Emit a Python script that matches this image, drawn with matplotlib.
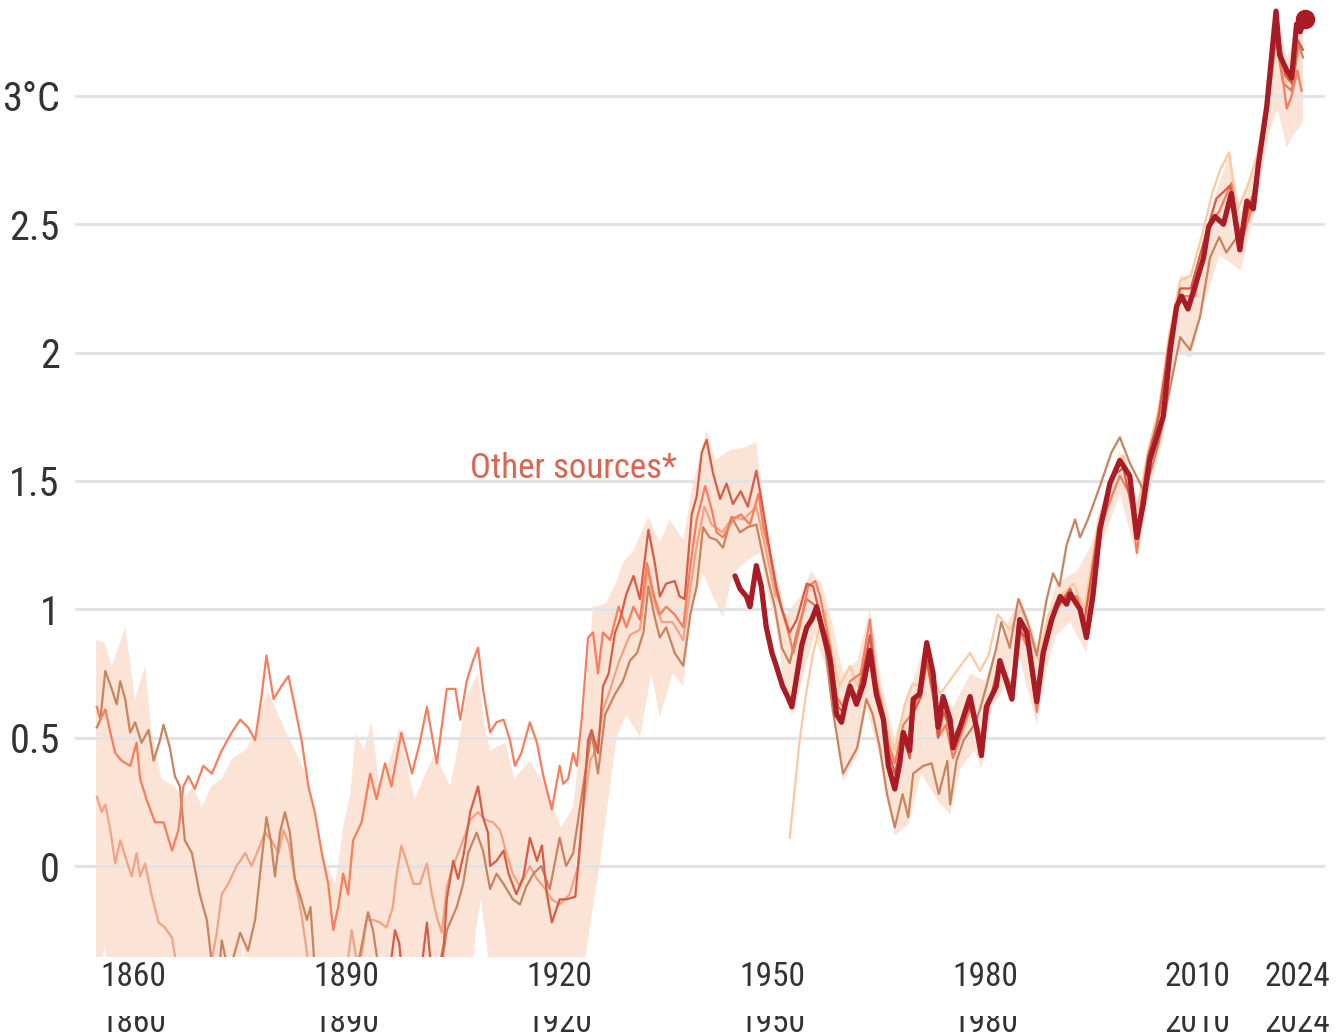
import matplotlib
matplotlib.use("Agg")
import matplotlib.pyplot as plt
from matplotlib import font_manager
from matplotlib.transforms import blended_transform_factory
from matplotlib.patches import Rectangle
import numpy as np

# pick a condensed face if one is installed
_avail = {f.name for f in font_manager.fontManager.ttflist}
FONT = "DejaVu Sans"
for _fam in ["Roboto Condensed", "Liberation Sans Narrow", "Arial Narrow", "Open Sans Condensed", "Roboto"]:
    if _fam in _avail:
        FONT = _fam
        break
plt.rcParams["font.family"] = [FONT, "DejaVu Sans"]

# ---- data (temperature anomaly, °C, rolling mean) ----
main_years = [1944.8, 1945.5, 1946.4, 1946.9, 1947.3, 1947.8, 1948.5, 1949.2, 1950.0, 1950.6,
              1951.5, 1952.2, 1952.8, 1953.5, 1954.2, 1954.9, 1955.6, 1956.3, 1957.2, 1958.2,
              1959.1, 1959.8, 1960.4, 1961.0, 1961.9, 1962.9, 1963.8, 1964.7, 1965.7, 1966.4,
              1967.3, 1968.0, 1968.5, 1969.4, 1969.9, 1970.8, 1971.8, 1972.7, 1973.4, 1974.1,
              1975.1, 1975.5, 1976.5, 1977.9, 1978.8, 1979.5, 1980.2, 1981.6, 1982.1, 1982.8,
              1983.8, 1984.9, 1985.9, 1987.3, 1988.2, 1989.4, 1990.6, 1991.5, 1992.0, 1993.4,
              1994.3, 1995.2, 1996.2, 1997.6, 1999.0, 2000.4, 2001.4, 2002.3, 2003.2, 2004.2,
              2005.1, 2006.1, 2007.0, 2007.7, 2008.6, 2009.6, 2010.8, 2011.5, 2012.4, 2013.6,
              2014.7, 2015.9, 2016.9, 2017.8, 2018.5, 2019.7, 2020.4, 2021.0, 2021.5, 2022.5,
              2023.2, 2023.9, 2024.4, 2025.1]
main_vals = [1.13, 1.08, 1.05, 1.01, 1.08, 1.17, 1.09, 0.93, 0.83, 0.78,
             0.70, 0.66, 0.62, 0.74, 0.86, 0.93, 0.96, 1.01, 0.91, 0.80,
             0.59, 0.56, 0.64, 0.70, 0.63, 0.71, 0.84, 0.67, 0.57, 0.39,
             0.30, 0.40, 0.52, 0.45, 0.65, 0.67, 0.87, 0.75, 0.54, 0.66,
             0.57, 0.46, 0.54, 0.66, 0.54, 0.43, 0.62, 0.70, 0.80, 0.74,
             0.65, 0.96, 0.91, 0.64, 0.83, 0.96, 1.05, 1.02, 1.06, 1.00,
             0.89, 1.05, 1.31, 1.49, 1.58, 1.52, 1.28, 1.41, 1.58, 1.67,
             1.75, 2.01, 2.18, 2.22, 2.17, 2.26, 2.37, 2.49, 2.53, 2.50,
             2.62, 2.40, 2.59, 2.56, 2.73, 2.96, 3.16, 3.33, 3.16, 3.10,
             3.07, 3.28, 3.25, 3.30]

salmon_years = [1854.9, 1855.4, 1856.1, 1856.8, 1857.5, 1858.4, 1859.6, 1860.5, 1861.0, 1861.9,
                1863.1, 1864.3, 1865.5, 1866.4, 1867.1, 1867.8, 1868.7, 1869.9, 1871.1, 1872.5,
                1873.9, 1875.1, 1876.2, 1877.2, 1878.1, 1878.8, 1879.8, 1880.9, 1881.9, 1882.8,
                1883.8, 1884.7, 1885.6, 1886.6, 1887.5, 1888.2, 1888.9, 1889.6, 1890.3, 1891.0,
                1892.2, 1893.4, 1894.3, 1895.5, 1896.4, 1897.8, 1899.3, 1900.4, 1901.4, 1902.8,
                1904.2, 1905.4, 1906.1, 1907.0, 1907.9, 1908.6, 1909.3, 1910.3, 1911.2, 1912.2,
                1913.1, 1913.8, 1914.7, 1915.9, 1916.9, 1917.8, 1919.0, 1920.1, 1920.6, 1921.3,
                1922.0, 1922.5, 1923.2, 1924.1, 1924.8, 1925.5, 1926.2, 1927.2, 1928.4, 1929.5,
                1930.5, 1931.4, 1932.4, 1933.3, 1934.2, 1935.1, 1936.3, 1937.5, 1938.5, 1939.4,
                1940.6, 1941.5, 1942.2, 1943.1, 1944.5, 1945.6, 1946.9, 1948.1, 1948.8, 1949.5,
                1950.7, 1951.6, 1952.5, 1953.0, 1953.9, 1955.1, 1956.1, 1956.8, 1958.0, 1959.1,
                1960.0, 1961.0, 1962.5, 1963.8, 1964.7, 1965.7, 1966.4, 1967.3, 1968.5, 1969.9,
                1971.0, 1971.8, 1972.7, 1973.4, 1974.5, 1975.5, 1976.5, 1978.0, 1979.5, 1980.2,
                1982.0, 1983.8, 1984.9, 1986.0, 1987.3, 1988.5, 1990.0, 1991.5, 1993.0, 1994.3,
                1996.0, 1998.0, 1999.0, 2000.4, 2001.4, 2003.0, 2004.2, 2006.0, 2007.5, 2009.6,
                2011.5, 2013.0, 2014.7, 2016.0, 2017.8, 2019.7, 2021.0, 2022.5, 2023.2, 2024.0,
                2024.6]
salmon_vals = [0.62, 0.57, 0.61, 0.52, 0.44, 0.41, 0.39, 0.48, 0.34, 0.26,
               0.17, 0.17, 0.06, 0.14, 0.31, 0.35, 0.30, 0.39, 0.36, 0.45,
               0.52, 0.57, 0.54, 0.49, 0.66, 0.82, 0.65, 0.70, 0.74, 0.62,
               0.48, 0.31, 0.21, 0.05, -0.07, -0.25, -0.16, -0.03, -0.11, 0.10,
               0.17, 0.36, 0.26, 0.40, 0.31, 0.52, 0.36, 0.48, 0.62, 0.40,
               0.69, 0.69, 0.57, 0.72, 0.80, 0.85, 0.69, 0.52, 0.56, 0.57,
               0.49, 0.39, 0.44, 0.56, 0.48, 0.35, 0.22, 0.39, 0.32, 0.34,
               0.44, 0.39, 0.57, 0.89, 0.91, 0.75, 0.91, 0.88, 1.01, 0.93,
               1.01, 0.96, 1.18, 1.06, 0.98, 1.01, 0.98, 0.93, 1.17, 1.35,
               1.48, 1.39, 1.30, 1.28, 1.35, 1.37, 1.33, 1.45, 1.32, 1.24,
               1.06, 0.98, 0.89, 0.83, 0.93, 1.09, 1.11, 1.05, 0.88, 0.66,
               0.62, 0.72, 0.75, 0.96, 0.72, 0.60, 0.48, 0.40, 0.55, 0.60,
               0.72, 0.80, 0.70, 0.50, 0.55, 0.42, 0.50, 0.62, 0.50, 0.58,
               0.80, 0.70, 0.92, 0.85, 0.60, 0.85, 1.00, 1.05, 1.05, 0.92,
               1.30, 1.45, 1.52, 1.45, 1.22, 1.55, 1.72, 2.02, 2.22, 2.22,
               2.50, 2.55, 2.66, 2.42, 2.58, 2.95, 3.28, 2.95, 3.00, 3.10,
               3.02]

tan_years = [1854.9, 1855.4, 1856.1, 1857.0, 1857.7, 1858.2, 1858.9, 1859.6, 1860.3, 1861.2,
             1862.2, 1862.9, 1863.8, 1864.3, 1865.2, 1865.9, 1866.6, 1867.3, 1868.3, 1869.4,
             1870.4, 1871.1, 1872.0, 1872.5, 1873.5, 1875.1, 1876.2, 1877.2, 1878.1, 1878.8,
             1879.4, 1880.0, 1880.7, 1881.4, 1882.1, 1882.8, 1883.7, 1884.5, 1885.0, 1885.6,
             1887.0, 1889.0, 1891.0, 1892.0, 1893.1, 1893.8, 1894.6, 1896.0, 1898.0, 1900.0,
             1902.0, 1903.5, 1904.2, 1905.6, 1906.5, 1907.2, 1908.4, 1909.3, 1910.3, 1911.2,
             1912.2, 1913.5, 1914.5, 1915.4, 1916.4, 1917.5, 1918.7, 1920.1, 1921.0, 1922.0,
             1923.4, 1924.6, 1925.5, 1926.5, 1927.9, 1929.0, 1930.0, 1931.0, 1931.9, 1932.6,
             1933.4, 1934.2, 1935.1, 1936.3, 1937.5, 1938.5, 1939.4, 1940.3, 1941.2, 1942.2,
             1943.1, 1944.3, 1945.5, 1946.6, 1947.8, 1948.5, 1949.5, 1950.4, 1951.4, 1952.5,
             1953.5, 1954.9, 1956.3, 1957.5, 1958.5, 1960.0, 1961.0, 1962.0, 1963.3, 1964.2,
             1965.2, 1966.2, 1967.3, 1968.4, 1969.2, 1969.9, 1971.3, 1972.5, 1973.5, 1974.7,
             1975.1, 1976.0, 1977.0, 1978.5, 1979.3, 1980.2, 1981.6, 1982.3, 1983.5, 1984.7,
             1985.9, 1987.3, 1988.7, 1989.6, 1990.5, 1991.5, 1992.7, 1993.4, 1994.5, 1996.2,
             1997.8, 1999.0, 2000.4, 2002.4, 2003.5, 2004.5, 2006.5, 2007.5, 2008.9, 2010.3,
             2011.7, 2013.0, 2014.0, 2015.5, 2016.5, 2018.0, 2019.7, 2021.0, 2022.0, 2023.2,
             2024.2, 2024.8]
tan_vals = [0.54, 0.57, 0.76, 0.69, 0.63, 0.72, 0.65, 0.52, 0.56, 0.48,
            0.53, 0.41, 0.49, 0.55, 0.46, 0.35, 0.31, 0.10, 0.05, -0.11,
            -0.21, -0.38, -0.45, -0.29, -0.42, -0.26, -0.33, -0.21, 0.02, 0.19,
            0.10, -0.04, 0.13, 0.21, 0.13, -0.05, -0.13, -0.21, -0.16, -0.40,
            -0.50, -0.45, -0.45, -0.34, -0.18, -0.25, -0.40, -0.50, -0.45, -0.50,
            -0.45, -0.38, -0.25, -0.16, -0.07, 0.05, 0.13, 0.06, -0.09, -0.03,
            -0.07, -0.13, -0.15, -0.08, -0.03, 0.00, -0.09, 0.11, 0.00, 0.05,
            0.31, 0.52, 0.36, 0.59, 0.67, 0.72, 0.80, 0.83, 0.91, 1.09,
            0.98, 0.89, 0.93, 0.83, 0.78, 0.98, 1.09, 1.32, 1.28, 1.27,
            1.24, 1.36, 1.30, 1.32, 1.33, 1.24, 1.11, 1.01, 0.85, 0.79,
            0.91, 1.04, 1.01, 0.85, 0.62, 0.36, 0.41, 0.46, 0.65, 0.59,
            0.46, 0.28, 0.15, 0.28, 0.19, 0.36, 0.39, 0.40, 0.28, 0.41,
            0.24, 0.41, 0.49, 0.55, 0.61, 0.70, 0.85, 0.95, 0.85, 1.04,
            0.96, 0.82, 1.04, 1.14, 1.09, 1.25, 1.35, 1.28, 1.35, 1.48,
            1.61, 1.67, 1.57, 1.46, 1.55, 1.65, 1.92, 2.06, 2.01, 2.14,
            2.37, 2.45, 2.39, 2.45, 2.50, 2.62, 2.92, 3.22, 3.05, 3.02,
            3.20, 3.15]

peach_years = [1854.9, 1855.6, 1856.1, 1856.8, 1857.5, 1858.2, 1859.1, 1859.8, 1860.5, 1861.0,
               1861.7, 1862.6, 1863.6, 1864.5, 1865.5, 1866.2, 1868.0, 1870.0, 1871.0, 1871.8,
               1872.5, 1873.4, 1874.6, 1875.8, 1876.7, 1877.6, 1878.6, 1879.5, 1880.5, 1881.2,
               1881.9, 1882.8, 1883.8, 1884.8, 1887.0, 1889.0, 1890.2, 1890.8, 1891.7, 1892.3,
               1892.9, 1893.8, 1894.8, 1895.7, 1896.6, 1897.1, 1897.8, 1898.5, 1899.5, 1900.4,
               1901.4, 1902.1, 1902.8, 1903.5, 1904.2, 1905.1, 1906.5, 1907.5, 1908.6, 1909.6,
               1910.7, 1911.7, 1912.6, 1913.5, 1914.5, 1915.9, 1916.9, 1917.8, 1919.0, 1920.1,
               1921.5, 1922.7, 1923.4, 1924.4, 1925.3, 1926.2, 1927.0, 1928.5, 1930.0, 1931.4,
               1932.5, 1933.5, 1934.5, 1936.0, 1937.5, 1938.5, 1939.4, 1940.5, 1941.5, 1943.0,
               1944.5, 1946.0, 1947.8, 1949.0, 1950.5]
peach_vals = [0.27, 0.21, 0.24, 0.14, 0.01, 0.10, 0.02, -0.04, 0.05, -0.04,
              0.01, -0.11, -0.22, -0.24, -0.28, -0.40, -0.50, -0.45, -0.38, -0.26,
              -0.11, -0.07, 0.00, 0.05, 0.00, 0.06, 0.13, 0.10, 0.05, 0.14,
              0.09, -0.05, -0.20, -0.40, -0.50, -0.45, -0.38, -0.25, -0.40, -0.33,
              -0.21, -0.21, -0.22, -0.24, -0.16, -0.04, 0.08, 0.02, -0.07, -0.07,
              0.01, -0.11, -0.20, -0.26, -0.08, 0.00, 0.10, 0.18, 0.21, 0.18,
              0.17, 0.14, 0.05, -0.03, -0.08, 0.00, -0.05, -0.08, -0.13, -0.15,
              -0.11, 0.00, 0.22, 0.41, 0.46, 0.61, 0.67, 0.80, 0.90, 0.92,
              1.15, 1.02, 0.95, 0.95, 0.88, 1.08, 1.25, 1.40, 1.33, 1.30,
              1.36, 1.35, 1.40, 1.25, 1.05]

red_orange_years = [1893.0, 1895.0, 1896.3, 1896.9, 1897.5, 1898.0, 1900.0, 1900.8, 1901.4, 1902.0,
                    1903.0, 1903.8, 1904.2, 1905.1, 1905.8, 1906.6, 1907.5, 1908.6, 1909.3, 1910.0,
                    1910.3, 1911.2, 1912.2, 1912.9, 1914.0, 1915.0, 1915.9, 1916.9, 1917.6, 1918.3,
                    1919.0, 1920.1, 1921.0, 1922.3, 1922.7, 1923.4, 1924.1, 1924.6, 1925.5, 1926.2,
                    1927.0, 1927.9, 1928.6, 1929.5, 1930.5, 1931.4, 1932.6, 1933.5, 1934.2, 1935.1,
                    1936.3, 1937.0, 1937.7, 1938.7, 1939.4, 1940.1, 1940.8, 1941.7, 1942.7, 1943.6,
                    1944.5, 1945.6, 1946.6, 1947.8, 1948.5, 1949.5, 1950.6, 1951.4, 1952.5, 1953.5,
                    1954.9, 1955.8, 1957.0, 1958.2, 1959.3, 1960.0, 1961.0, 1962.0, 1963.0, 1963.8,
                    1964.7, 1965.7, 1966.4, 1967.3, 1968.5, 1969.4, 1970.0, 1971.0, 1971.8, 1972.7,
                    1973.4, 1974.2, 1975.5, 1976.5, 1977.9, 1978.8, 1979.5, 1980.5, 1982.0, 1983.8,
                    1984.9, 1986.0, 1987.3, 1988.5, 1990.0, 1992.0, 1994.0, 1996.0, 1998.0, 1999.5,
                    2001.4, 2003.0, 2004.5, 2006.0, 2007.5, 2009.0, 2011.0, 2012.6, 2014.5, 2016.0,
                    2017.8, 2019.7, 2021.0, 2022.3, 2023.2, 2024.0, 2024.8]
red_orange_vals = [-0.55, -0.50, -0.38, -0.25, -0.30, -0.45, -0.45, -0.36, -0.22, -0.40,
                   -0.42, -0.30, -0.13, 0.02, -0.05, 0.05, 0.21, 0.31, 0.19, 0.13,
                   0.00, 0.02, 0.06, -0.03, -0.11, -0.04, 0.11, 0.02, 0.08, -0.11,
                   -0.22, -0.13, -0.13, -0.12, 0.00, 0.23, 0.49, 0.53, 0.44, 0.70,
                   0.75, 0.91, 0.96, 1.06, 1.13, 1.04, 1.31, 1.18, 1.05, 1.10,
                   1.11, 1.05, 1.04, 1.37, 1.44, 1.61, 1.66, 1.53, 1.43, 1.49,
                   1.41, 1.46, 1.40, 1.54, 1.43, 1.26, 1.09, 1.00, 0.91, 0.96,
                   1.10, 1.09, 0.95, 0.85, 0.62, 0.60, 0.70, 0.66, 0.78, 0.90,
                   0.70, 0.56, 0.45, 0.36, 0.50, 0.42, 0.60, 0.66, 0.80, 0.66,
                   0.50, 0.60, 0.50, 0.55, 0.62, 0.52, 0.46, 0.62, 0.78, 0.68,
                   0.92, 0.88, 0.68, 0.88, 1.00, 1.08, 0.95, 1.32, 1.52, 1.55,
                   1.30, 1.60, 1.75, 2.05, 2.25, 2.25, 2.45, 2.60, 2.65, 2.45,
                   2.62, 2.95, 3.30, 3.08, 3.05, 3.22, 3.18]

pale_years = [1952.5, 1953.2, 1953.9, 1954.8, 1955.8, 1956.7, 1957.5, 1958.3, 1959.5, 1961.0,
              1962.0, 1963.0, 1963.8, 1965.0, 1966.0, 1967.3, 1968.7, 1969.8, 1971.0, 1972.0,
              1973.7, 1975.5, 1977.9, 1979.3, 1980.5, 1981.8, 1983.5, 1985.0, 1986.5, 1987.5,
              1989.0, 1990.5, 1992.5, 1994.0, 1996.0, 1998.0, 1999.5, 2001.4, 2003.0, 2004.5,
              2006.0, 2007.5, 2009.0, 2010.5, 2012.0, 2013.1, 2014.4, 2015.5, 2017.0, 2018.5,
              2020.0, 2021.0, 2022.5, 2023.5, 2024.5]
pale_vals = [0.11, 0.30, 0.49, 0.67, 0.83, 0.93, 1.00, 0.85, 0.70, 0.78,
             0.70, 0.80, 0.88, 0.70, 0.55, 0.45, 0.63, 0.71, 0.70, 0.78,
             0.67, 0.74, 0.83, 0.76, 0.82, 0.98, 0.92, 1.00, 0.92, 0.80,
             0.98, 1.05, 1.10, 1.00, 1.35, 1.52, 1.60, 1.38, 1.62, 1.78,
             2.08, 2.28, 2.30, 2.45, 2.62, 2.71, 2.78, 2.55, 2.65, 2.78,
             3.00, 3.25, 3.05, 3.10, 3.18]

# spread of the other sources
band_hi_years = [1854.8, 1856.0, 1857.0, 1858.4, 1858.9, 1860.3, 1861.7, 1862.6, 1864.0, 1865.9,
                 1867.0, 1868.5, 1869.7, 1871.0, 1872.5, 1874.0, 1875.8, 1877.0, 1878.0, 1879.0,
                 1880.0, 1881.4, 1883.0, 1884.5, 1886.0, 1887.0, 1888.5, 1889.6, 1890.6, 1891.4,
                 1892.5, 1893.6, 1894.7, 1896.0, 1897.5, 1898.5, 1899.7, 1901.0, 1902.5, 1903.5,
                 1904.7, 1906.0, 1907.0, 1908.6, 1909.5, 1910.3, 1912.5, 1913.7, 1915.9, 1918.1,
                 1920.3, 1922.0, 1923.7, 1924.8, 1926.5, 1928.0, 1929.0, 1930.5, 1932.6, 1934.2,
                 1935.6, 1937.5, 1938.8, 1940.8, 1942.0, 1944.1, 1946.0, 1947.8, 1948.8, 1950.2,
                 1952.0, 1954.0, 1955.5, 1957.0, 1958.5, 1960.0, 1962.0, 1963.8, 1965.5, 1967.3,
                 1969.0, 1971.8, 1973.5, 1975.5, 1978.0, 1980.0, 1982.0, 1985.0, 1987.5, 1990.0,
                 1993.0, 1995.0, 1999.0, 2001.5, 2004.5, 2007.5, 2009.5, 2012.5, 2014.5, 2016.0,
                 2018.0, 2020.0, 2021.0, 2022.5, 2024.8]
band_hi = [0.88, 0.87, 0.78, 0.89, 0.93, 0.65, 0.78, 0.52, 0.34, 0.31,
           0.26, 0.31, 0.23, 0.31, 0.34, 0.42, 0.45, 0.50, 0.61, 0.68,
           0.62, 0.53, 0.44, 0.35, 0.12, 0.02, -0.07, 0.15, 0.28, 0.52,
           0.45, 0.56, 0.31, 0.40, 0.54, 0.40, 0.26, 0.35, 0.44, 0.38,
           0.31, 0.50, 0.66, 0.75, 0.55, 0.45, 0.48, 0.34, 0.41, 0.31,
           0.15, 0.23, 0.65, 1.01, 1.02, 1.10, 1.18, 1.23, 1.36, 1.26,
           1.35, 1.27, 1.48, 1.70, 1.58, 1.62, 1.63, 1.65, 1.41, 1.19,
           0.98, 1.05, 1.15, 1.10, 0.95, 0.75, 0.80, 1.00, 0.70, 0.50,
           0.65, 0.88, 0.65, 0.62, 0.75, 0.72, 0.88, 1.05, 0.85, 1.10,
           1.15, 1.25, 1.62, 1.42, 1.78, 2.30, 2.30, 2.62, 2.78, 2.55,
           2.75, 3.05, 3.35, 3.15, 3.30]
band_lo_years = [1854.8, 1856.0, 1857.0, 1875.0, 1875.5, 1876.0, 1907.5, 1908.3, 1909.0, 1909.8,
                 1910.5, 1923.0, 1924.0, 1925.8, 1928.1, 1929.5, 1931.4, 1933.0, 1934.2, 1936.0,
                 1937.5, 1938.8, 1940.3, 1941.5, 1943.1, 1944.5, 1946.4, 1948.3, 1949.5, 1950.5,
                 1951.5, 1952.8, 1954.0, 1956.0, 1957.5, 1959.0, 1960.0, 1962.0, 1963.3, 1965.2,
                 1967.3, 1969.2, 1971.0, 1973.5, 1975.1, 1976.5, 1978.5, 1979.5, 1981.0, 1982.5,
                 1984.5, 1987.3, 1988.5, 1990.0, 1992.0, 1994.3, 1996.0, 1999.0, 2001.4, 2003.5,
                 2005.0, 2007.0, 2009.0, 2011.0, 2013.0, 2014.5, 2016.0, 2018.0, 2020.0, 2021.2,
                 2022.5, 2023.5, 2024.8]
band_lo = [-0.50, -0.31, -0.50, -0.50, -0.29, -0.50, -0.50, -0.25, -0.13, -0.30,
           -0.50, -0.50, -0.30, 0.02, 0.50, 0.59, 0.50, 0.75, 0.58, 0.75,
           0.70, 1.01, 1.14, 1.06, 0.97, 1.14, 1.19, 1.22, 1.05, 0.95,
           0.75, 0.58, 0.70, 0.90, 0.78, 0.52, 0.33, 0.43, 0.62, 0.42,
           0.12, 0.16, 0.36, 0.25, 0.20, 0.38, 0.45, 0.38, 0.62, 0.68,
           0.85, 0.55, 0.75, 0.90, 0.95, 0.83, 1.22, 1.45, 1.20, 1.50,
           1.65, 2.00, 1.98, 2.20, 2.38, 2.35, 2.32, 2.55, 2.85, 2.95,
           2.80, 2.85, 2.90]

ytick_vals = [0, 0.5, 1, 1.5, 2, 2.5, 3]
ytick_labels = ["0", "0.5", "1", "1.5", "2", "2.5", "3°C"]
xtick_vals = [1860, 1890, 1920, 1950, 1980, 2010, 2024]
xtick_labels = ["1860", "1890", "1920", "1950", "1980", "2010", "2024"]

# ---- figure ----
W, H = 1338, 1035
fig = plt.figure(figsize=(W / 100, H / 100), dpi=100)
ax = fig.add_axes([75 / W, 1 - 957 / H, 1250 / W, 957 / H])
ax.set_xlim(1851.83, 2027.9)
ax.set_ylim(-0.3545, 3.3736)

TXT = "#333333"

# spread band
ax.fill(np.r_[band_hi_years, band_lo_years[::-1]], np.r_[band_hi, band_lo[::-1]],
        color="#fbe3d6", lw=0, zorder=0.5)

for v in ytick_vals:
    ax.axhline(v, color="#e3e3e3", lw=2.2, zorder=1)

ax.plot(peach_years, peach_vals, color="#f1a383", lw=1.6, zorder=2)
ax.plot(tan_years, tan_vals, color="#c8845f", lw=1.6, zorder=2.2)
ax.plot(salmon_years, salmon_vals, color="#f97c5c", lw=1.6, zorder=2.4)
ax.plot(pale_years, pale_vals, color="#fcc8a0", lw=1.6, zorder=2.1)
ax.plot(red_orange_years, red_orange_vals, color="#d85c45", lw=1.6, zorder=2.5)
ax.plot(main_years, main_vals, color="#a91b25", lw=3.8, zorder=3,
        solid_joinstyle="round", solid_capstyle="round")
ax.plot(main_years[-1:], main_vals[-1:], "o", color="#a91b25", ms=13, zorder=3.1)

ax.text(1922.0, 1.55, "Other sources*", color="#db6550", fontsize=25,
        ha="center", va="center", zorder=4)

for s in ax.spines.values():
    s.set_visible(False)

ax.set_yticks(ytick_vals)
ax.set_yticklabels(ytick_labels)
ax.set_xticks(xtick_vals)
ax.set_xticklabels(xtick_labels)
ax.tick_params(axis="y", length=0, pad=11, labelsize=29, labelcolor=TXT)
ax.tick_params(axis="x", length=0, pad=3, labelsize=24, labelcolor=TXT)

# second, partly hidden row of year labels at the very bottom
trans = blended_transform_factory(ax.transData, fig.transFigure)
for xv, lab in zip(xtick_vals, xtick_labels):
    ax.text(xv, 1 - 1032 / H, lab, transform=trans, ha="center", va="baseline",
            fontsize=24, color=TXT, clip_on=False)
fig.patches.append(Rectangle((0, 1 - 1016 / H), 1, 19 / H, transform=fig.transFigure,
                             facecolor="white", edgecolor="none", zorder=10))

fig.savefig("out.png", dpi=100)
